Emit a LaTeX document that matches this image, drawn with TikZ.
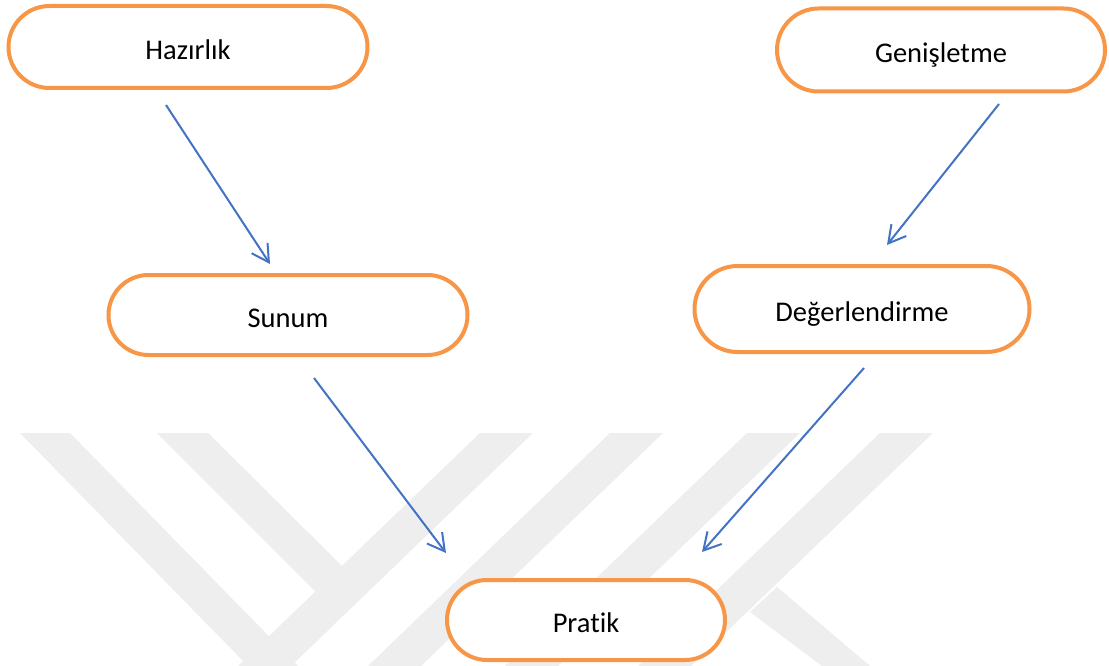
\documentclass[tikz,border=0pt]{standalone}
\usepackage{fontspec}
\setmainfont[Ligatures=NoCommon]{Carlito}
\usetikzlibrary{arrows.meta,shapes.misc}
\definecolor{boxorange}{RGB}{247,150,70}
\definecolor{arrowblue}{RGB}{68,114,196}
\definecolor{wmgray}{RGB}{238,238,238}
\tikzset{
  term/.style={rounded rectangle, draw=boxorange, line width=4pt, fill=white,
    minimum height=80pt, inner sep=0pt, text=black,
    text height=25pt, text depth=0.6pt,
    font=\fontsize{28.5}{34}\selectfont},
  flow/.style={draw=arrowblue, line width=2pt,
    -{Straight Barb[length=17pt,width=19pt,line width=2pt]}},
  wm/.style={fill=wmgray, draw=none}
}
\begin{document}
\begin{tikzpicture}[x=1pt,y=-1pt]
\useasboundingbox (0,0) rectangle (1109,666);
\fill[white] (0,0) rectangle (1109,666);
% watermark
\fill[wm] (20,433) -- (70,433) -- (298,666) -- (248,666) -- cycle;
\fill[wm] (157,433) -- (208,433) -- (342,566) -- (316,592) -- cycle;
\fill[wm] (480,433) -- (533,433) -- (291,666) -- (238,666) -- cycle;
\fill[wm] (610,433) -- (663,433) -- (421,666) -- (368,666) -- cycle;
\fill[wm] (747,433) -- (800,433) -- (558,666) -- (505,666) -- cycle;
\fill[wm] (880,433) -- (933,433) -- (691,666) -- (638,666) -- cycle;
\fill[wm] (777,587) -- (870,666) -- (822,666) -- (750,612) -- cycle;
% nodes
\node[term, minimum width=359pt, minimum height=82pt] (haz) at (188,47) {Hazırlık};
\node[term, minimum width=328pt, minimum height=83pt] (gen) at (941,50) {Genişletme};
\node[term, minimum width=359pt, minimum height=80pt] (sun) at (288,315) {Sunum};
\node[term, minimum width=335pt, minimum height=86pt] (deg) at (862,309) {Değerlendirme};
\node[term, minimum width=278pt, minimum height=80pt] (pra) at (586,620) {Pratik};
% connector ends
\coordinate (h1) at (166,105);
\coordinate (s1) at (270,264);
\coordinate (g1) at (999,104);
\coordinate (d1) at (887,245);
\coordinate (s2) at (314,378);
\coordinate (p1) at (446,553);
\coordinate (d2) at (864,368);
\coordinate (p2) at (702,552);
\draw[flow] (h1) -- (s1);
\draw[flow] (g1) -- (d1);
\draw[flow] (s2) -- (p1);
\draw[flow] (d2) -- (p2);
\end{tikzpicture}
\end{document}
